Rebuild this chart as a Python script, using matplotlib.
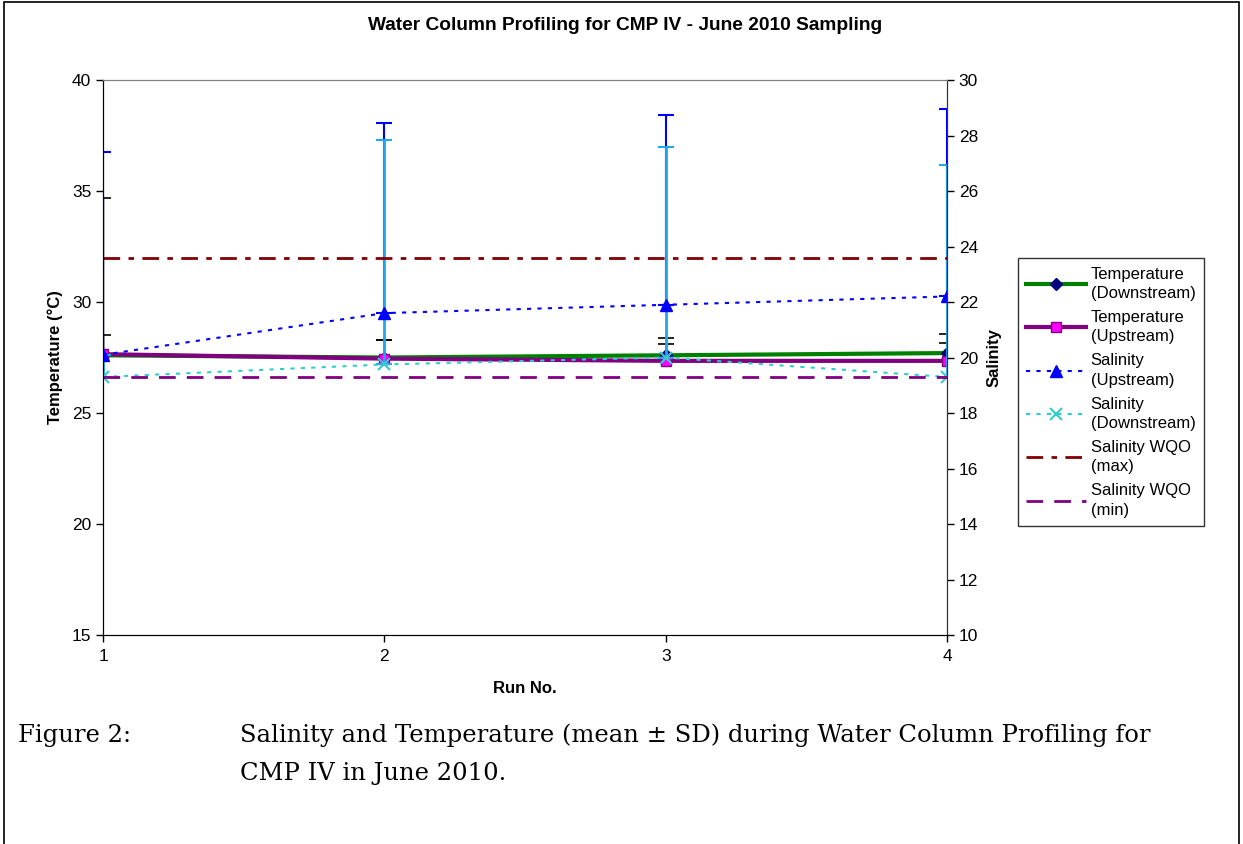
import numpy as np
import matplotlib.pyplot as plt
from matplotlib.patches import Rectangle

plt.rcParams['font.family'] = ['Liberation Sans', 'DejaVu Sans']

runs = [1, 2, 3, 4]

# temperature (deg C), mean and SD
temp_down = [27.6, 27.5, 27.6, 27.7]
temp_down_sd = [7.1, 0.8, 0.8, 0.85]
temp_up = [27.65, 27.45, 27.35, 27.35]
temp_up_sd = [0.85, 0.85, 0.75, 0.8]

# salinity, mean and SD
sal_up = [20.1, 21.6, 21.9, 22.2]
sal_up_sd = [7.3, 6.85, 6.85, 6.75]
sal_down = [19.3, 19.75, 20.0, 19.3]
sal_down_sd = [0.8, 8.1, 7.6, 7.65]

# water quality objectives for salinity
wqo_max = [23.6, 23.6, 23.6, 23.6]
wqo_min = [19.3, 19.3, 19.3, 19.3]

fig = plt.figure(figsize=(12.43, 8.44), dpi=100)
ax1 = fig.add_axes([0.0829, 0.2476, 0.6790, 0.6576])
ax2 = ax1.twinx()

zeros = np.zeros(len(runs))

# temperature on the left axis
ax1.errorbar(runs, temp_down, yerr=[zeros, temp_down_sd], fmt='none',
             ecolor='black', elinewidth=1, capsize=6, capthick=1.2)
ax1.errorbar(runs, temp_up, yerr=[zeros, temp_up_sd], fmt='none',
             ecolor='black', elinewidth=1, capsize=6, capthick=1.2)
l1, = ax1.plot(runs, temp_down, color='#008000', lw=3, marker='D', ms=6,
               mfc='#000080', mec='#000080', label='Temperature\n(Downstream)')
l2, = ax1.plot(runs, temp_up, color='#800080', lw=3, marker='s', ms=7,
               mfc='#FF00FF', mec='#800080', label='Temperature\n(Upstream)')

# salinity on the right axis (downstream bars over upstream ones)
ax2.errorbar(runs, sal_up, yerr=[zeros, sal_up_sd], fmt='none',
             ecolor='#0000FF', elinewidth=1.5, capsize=6, capthick=1.5)
ax2.errorbar(runs, sal_down, yerr=[zeros, sal_down_sd], fmt='none',
             ecolor='#1EA8F0', elinewidth=2, capsize=6, capthick=1.5)
l3, = ax2.plot(runs, sal_up, color='#0000FF', lw=1.5, ls=(0, (2, 3)),
               marker='^', ms=8, mfc='#0000FF', mec='#0000FF',
               label='Salinity\n(Upstream)')
l4, = ax2.plot(runs, sal_down, color='#33CCCC', lw=1.5, ls=(0, (2, 3)),
               marker='x', ms=8, mew=1.5, label='Salinity\n(Downstream)')
l5, = ax2.plot(runs, wqo_max, color='#800000', lw=2, ls=(0, (6, 3, 2, 3)),
               label='Salinity WQO\n(max)')
l6, = ax2.plot(runs, wqo_min, color='#800080', lw=2, ls=(0, (6, 4)),
               label='Salinity WQO\n(min)')

ax1.set_xlim(1, 4)
ax1.set_ylim(15, 40)
ax2.set_ylim(10, 30)
ax1.set_xticks(runs)
ax1.set_yticks(np.arange(15, 41, 5))
ax2.set_yticks(np.arange(10, 31, 2))
ax1.tick_params(labelsize=12.5, length=5, direction='out', width=1)
ax2.tick_params(labelsize=12.5, length=5, direction='out', width=1)
ax1.tick_params(axis='x', pad=5)

ax1.spines['top'].set_color('#808080')
ax2.spines['top'].set_color('#808080')
ax2.spines['right'].set_color('#333333')

ax1.set_xlabel('Run No.', fontsize=12, fontweight='bold', labelpad=12)
ax1.set_ylabel('Temperature (°C)', fontsize=12, fontweight='bold', labelpad=6)
ax2.set_ylabel('Salinity', fontsize=12, fontweight='bold', labelpad=6)

fig.text(0.503, 0.970, 'Water Column Profiling for CMP IV - June 2010 Sampling',
         ha='center', va='center', fontsize=13.8, fontweight='bold')

leg = fig.legend(handles=[l1, l2, l3, l4, l5, l6], loc='upper left',
                 bbox_to_anchor=(0.819, 0.694), fontsize=12,
                 frameon=True, fancybox=False, edgecolor='black',
                 handlelength=3.6, labelspacing=0.55, borderpad=0.5,
                 handletextpad=0.25, borderaxespad=0)
leg.get_frame().set_linewidth(1)
plt.setp(leg.get_texts(), linespacing=1.35)

# caption
cap_kw = dict(fontsize=17.5, family='DejaVu Serif', va='center')
fig.text(0.0145, 0.129, 'Figure 2:', **cap_kw)
fig.text(0.193, 0.129,
         'Salinity and Temperature (mean ± SD) during Water Column Profiling for',
         **cap_kw)
fig.text(0.193, 0.083, 'CMP IV in June 2010.', **cap_kw)

# outer frame round the whole figure
fig.patches.append(Rectangle((0.003, -0.05), 0.994, 1.048,
                             transform=fig.transFigure, fill=False,
                             edgecolor='black', lw=1.2))

fig.savefig('out.png', dpi=100)
